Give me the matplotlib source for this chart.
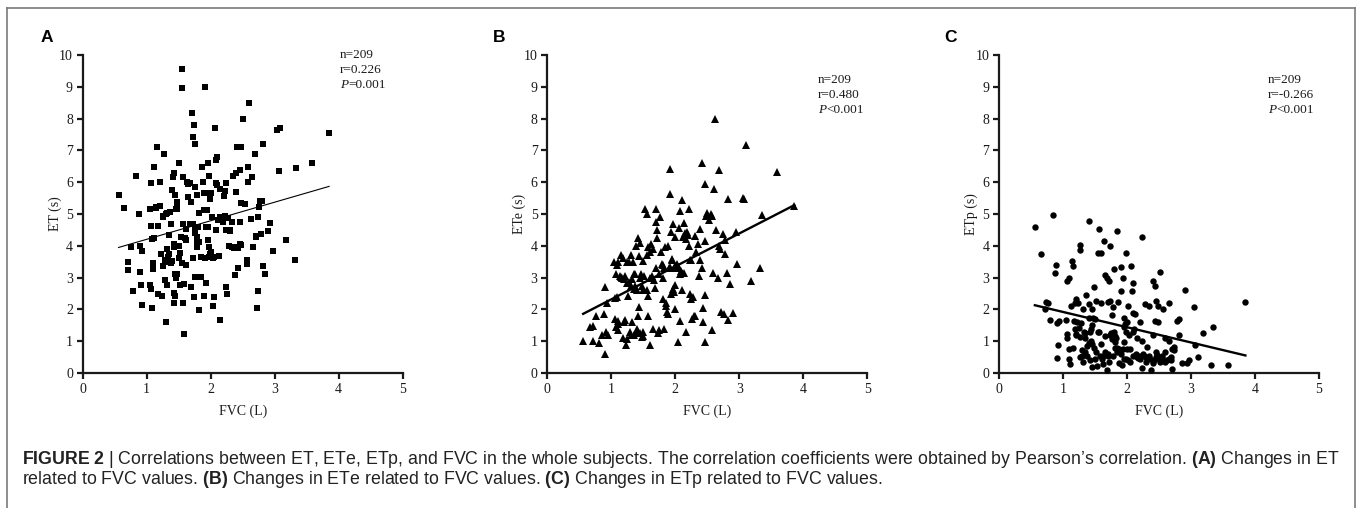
import matplotlib
matplotlib.use("Agg")
import matplotlib.pyplot as plt
from matplotlib.lines import Line2D

W, H = 1362, 508

# ---------------- data ----------------
x_ticks = [0, 1, 2, 3, 4, 5]
y_ticks = [0, 1, 2, 3, 4, 5, 6, 7, 8, 9, 10]
panel_letters = ["A", "B", "C"]
y_labels = ["ET (s)", "ETe (s)", "ETp (s)"]
x_label = "FVC (L)"
stats_text = [["n=209", "r=0.226", "P", "=0.001"],
              ["n=209", "r=0.480", "P", "<0.001"],
              ["n=209", "r=-0.266", "P", "<0.001"]]

# (FVC, ET)
points_a = [
    (0.56, 5.6), (0.65, 5.2), (0.75, 3.97), (0.71, 3.48), (0.71, 3.24), (0.79, 2.58), (0.83, 6.2),
    (0.875, 5.0), (0.90, 4.0), (0.93, 3.85), (0.90, 3.19), (0.91, 2.77), (0.92, 2.13), (1.05, 2.77),
    (1.06, 2.63), (1.09, 2.03), (1.06, 5.99), (1.06, 4.62), (1.05, 5.15), (1.09, 4.22), (1.11, 6.49),
    (1.16, 7.1), (1.10, 3.47), (1.10, 3.26), (1.15, 5.23), (1.17, 4.62), (1.17, 2.5), (1.21, 6.0),
    (1.20, 5.25), (1.22, 3.74), (1.24, 2.42), (1.25, 3.36), (1.27, 6.9), (1.26, 4.92), (1.28, 2.92),
    (1.30, 1.61), (1.31, 5.02), (1.31, 3.89), (1.32, 2.77), (1.33, 3.66), (1.34, 3.5), (1.35, 4.34),
    (1.36, 5.07), (1.38, 4.69), (1.39, 3.53), (1.40, 5.75), (1.41, 6.15), (1.43, 6.28), (1.43, 3.97),
    (1.44, 5.6), (1.43, 2.53), (1.44, 2.42), (1.43, 2.19), (1.44, 3.11), (1.46, 2.98), (1.45, 5.17),
    (1.47, 5.28), (1.48, 5.39), (1.50, 3.99), (1.50, 3.61), (1.51, 6.59), (1.52, 3.76), (1.52, 2.77),
    (1.53, 4.27), (1.55, 9.55), (1.55, 8.95), (1.57, 6.17), (1.57, 4.69), (1.57, 2.19), (1.59, 1.22),
    (1.61, 4.52), (1.61, 4.18), (1.61, 3.4), (1.63, 6.02), (1.65, 5.55), (1.67, 5.99), (1.69, 5.39),
    (1.70, 8.19), (1.69, 2.71), (1.72, 7.41), (1.72, 4.69), (1.73, 3.61), (1.74, 7.8), (1.75, 7.2),
    (1.74, 2.4), (1.76, 5.86), (1.76, 4.5), (1.75, 3.01), (1.78, 5.6), (1.79, 4.29), (1.79, 3.97),
    (1.80, 4.6), (1.81, 1.98), (1.82, 5.02), (1.82, 4.13), (1.85, 3.03), (1.86, 6.49), (1.88, 6.02),
    (1.89, 5.13), (1.89, 2.42), (1.91, 9.0), (1.91, 3.61), (1.92, 2.82), (1.93, 5.67), (1.94, 5.13),
    (1.95, 6.59), (1.95, 4.6), (1.96, 4.18), (1.97, 3.66), (1.98, 6.2), (1.98, 3.97), (1.99, 5.46),
    (1.99, 3.74), (2.00, 5.67), (2.02, 4.92), (2.03, 3.61), (2.04, 2.11), (2.05, 2.4), (2.07, 7.69),
    (2.08, 6.7), (2.08, 5.99), (2.09, 4.5), (2.10, 6.8), (2.11, 4.81), (2.13, 3.68), (2.14, 4.92),
    (2.14, 5.78), (2.15, 1.67), (2.17, 4.92), (2.19, 4.76), (2.21, 5.57), (2.21, 4.92), (2.23, 5.73),
    (2.24, 5.99), (2.24, 4.5), (2.24, 2.69), (2.25, 2.5), (2.27, 4.86), (2.28, 3.99), (2.30, 4.47),
    (2.33, 3.95), (2.34, 4.76), (2.35, 6.2), (2.36, 3.92), (2.38, 3.08), (2.40, 5.7), (2.40, 6.3),
    (2.41, 7.1), (2.42, 3.29), (2.43, 3.92), (2.45, 4.76), (2.46, 6.38), (2.47, 5.34), (2.47, 4.03),
    (2.48, 7.1), (2.51, 8.0), (2.54, 5.32), (2.56, 3.55), (2.56, 3.43), (2.59, 6.47), (2.59, 6.02),
    (2.60, 8.5), (2.63, 4.83), (2.65, 6.17), (2.66, 3.97), (2.69, 6.89), (2.71, 4.29), (2.72, 2.03),
    (2.74, 2.59), (2.74, 4.92), (2.75, 5.23), (2.77, 5.42), (2.79, 4.37), (2.81, 7.2), (2.82, 3.36),
    (2.85, 3.11), (2.89, 4.47), (2.93, 4.73), (2.97, 3.85), (3.03, 7.64), (3.09, 7.71), (3.07, 6.36),
    (3.17, 4.18), (3.32, 3.55), (3.33, 6.44), (3.58, 6.59), (3.85, 7.54),
    (1.25, 4.95), (1.28, 3.55), (1.35, 3.75), (1.38, 3.45), (1.42, 4.05), (1.47, 3.1), (1.55, 3.45),
    (1.60, 4.25), (1.68, 4.7), (1.75, 4.4), (1.78, 4.15), (1.85, 3.65), (1.92, 4.6), (2.0, 3.8),
    (2.05, 3.65), (2.12, 4.8), (2.18, 4.85), (2.22, 4.95), (2.3, 4.5), (2.38, 3.95), (1.15, 5.2),
    (1.12, 4.25), (1.3, 5.0), (1.48, 5.15), (1.65, 5.95), (1.9, 5.65), (2.1, 5.9), (2.45, 4.05),
    (2.7, 4.3), (2.8, 5.4), (1.58, 2.8),
]

# (FVC, ETe)
points_b = [
    (0.56, 1.0), (0.66, 1.44), (0.71, 1.49), (0.72, 1.0), (0.76, 1.8), (0.80, 0.94), (0.85, 1.18),
    (0.89, 1.86), (0.90, 2.72), (0.90, 0.6), (0.92, 1.29), (0.94, 2.2), (1.04, 3.48), (1.06, 1.7),
    (1.07, 1.44), (1.09, 2.38), (1.08, 3.11), (1.09, 3.4), (1.10, 3.48), (1.11, 1.36), (1.11, 1.65),
    (1.13, 3.05), (1.15, 3.7), (1.16, 3.0), (1.18, 1.1), (1.19, 3.63), (1.22, 3.05), (1.22, 1.68),
    (1.23, 0.87), (1.24, 2.82), (1.25, 1.08), (1.26, 2.43), (1.27, 2.87), (1.28, 3.48), (1.29, 1.29),
    (1.31, 3.7), (1.32, 1.6), (1.33, 2.95), (1.34, 3.48), (1.35, 2.64), (1.36, 1.18), (1.37, 3.11),
    (1.37, 2.75), (1.38, 4.0), (1.40, 1.37), (1.41, 1.8), (1.42, 4.23), (1.43, 2.07), (1.44, 3.68),
    (1.45, 1.25), (1.46, 3.11), (1.48, 2.75), (1.48, 1.13), (1.49, 3.53), (1.50, 1.3), (1.51, 3.05),
    (1.53, 5.17), (1.55, 2.6), (1.56, 4.99), (1.57, 3.97), (1.58, 2.43), (1.58, 1.8), (1.60, 0.87),
    (1.61, 3.79), (1.62, 4.05), (1.63, 3.05), (1.65, 1.39), (1.66, 2.92), (1.69, 2.66), (1.70, 5.17),
    (1.70, 4.75), (1.71, 4.5), (1.72, 4.23), (1.73, 1.25), (1.74, 1.34), (1.76, 4.92), (1.77, 3.79),
    (1.79, 3.42), (1.80, 3.0), (1.81, 2.33), (1.82, 1.39), (1.83, 3.29), (1.84, 3.97), (1.85, 2.12),
    (1.87, 1.91), (1.89, 4.0), (1.89, 1.86), (1.91, 3.32), (1.91, 5.64), (1.92, 6.4), (1.93, 2.48),
    (1.94, 4.42), (1.95, 3.56), (1.96, 2.64), (1.97, 4.7), (1.98, 3.29), (1.99, 2.01), (2.00, 4.29),
    (2.00, 2.77), (2.03, 3.42), (2.04, 0.99), (2.05, 4.57), (2.07, 1.65), (2.08, 5.09), (2.09, 3.22),
    (2.10, 2.61), (2.11, 5.43), (2.12, 4.29), (2.13, 3.16), (2.14, 4.72), (2.16, 1.3), (2.17, 4.21),
    (2.19, 4.42), (2.21, 4.0), (2.22, 5.15), (2.23, 3.54), (2.23, 2.48), (2.24, 2.33), (2.26, 1.7),
    (2.28, 2.38), (2.29, 1.8), (2.30, 4.31), (2.33, 3.79), (2.35, 4.05), (2.37, 3.04), (2.39, 4.52),
    (2.39, 3.54), (2.41, 6.59), (2.42, 3.29), (2.43, 1.6), (2.44, 2.04), (2.46, 5.95), (2.47, 2.45),
    (2.47, 0.99), (2.47, 4.15), (2.48, 4.94), (2.49, 5.04), (2.52, 4.81), (2.55, 4.99), (2.57, 1.36),
    (2.58, 4.94), (2.59, 3.16), (2.60, 5.79), (2.62, 7.99), (2.64, 4.49), (2.66, 2.99), (2.68, 3.98),
    (2.69, 6.37), (2.70, 3.91), (2.72, 1.91), (2.75, 4.36), (2.76, 1.86), (2.77, 4.19), (2.78, 3.74),
    (2.80, 3.16), (2.82, 5.48), (2.83, 1.68), (2.86, 2.8), (2.90, 1.89), (2.95, 4.42), (2.97, 3.42),
    (3.05, 5.51), (3.08, 5.46), (3.11, 7.18), (3.18, 2.9), (3.33, 3.29), (3.36, 4.96), (3.59, 6.32),
    (3.86, 5.25),
    (1.15, 3.02), (1.2, 2.95), (1.25, 3.5), (1.3, 2.75), (1.35, 3.1), (1.4, 2.6), (1.45, 3.0),
    (1.5, 2.6), (1.55, 3.7), (1.6, 3.0), (1.65, 3.9), (1.7, 3.3), (1.75, 3.1), (1.8, 3.4),
    (1.85, 2.2), (1.9, 3.3), (1.95, 3.6), (2.0, 3.35), (2.05, 3.3), (2.1, 3.15), (2.15, 4.4),
    (2.2, 4.35), (2.25, 3.55), (2.3, 1.8), (1.1, 1.55), (1.2, 1.6), (1.3, 1.2), (1.4, 1.25),
    (1.5, 1.15), (0.95, 1.2), (1.05, 2.35), (1.45, 4.1), (1.98, 2.55), (2.08, 3.1),
]

# (FVC, ETp)
points_c = [
    (0.56, 4.58), (0.66, 3.75), (0.72, 2.01), (0.73, 2.24), (0.76, 2.2), (0.80, 1.66), (0.84, 4.97),
    (0.89, 3.39), (0.88, 3.13), (0.90, 1.57), (0.92, 0.88), (0.90, 0.48), (0.93, 1.64), (1.05, 1.66),
    (1.06, 1.23), (1.07, 1.1), (1.07, 2.89), (1.10, 3.0), (1.09, 0.76), (1.10, 0.43), (1.11, 0.29),
    (1.12, 2.11), (1.14, 3.52), (1.15, 3.36), (1.17, 1.64), (1.18, 2.2), (1.19, 1.38), (1.20, 2.32),
    (1.21, 1.23), (1.22, 1.61), (1.24, 2.2), (1.26, 3.88), (1.27, 4.04), (1.26, 0.5), (1.27, 1.12),
    (1.28, 1.57), (1.29, 0.73), (1.31, 2.01), (1.32, 0.36), (1.33, 1.28), (1.34, 0.66), (1.35, 1.25),
    (1.36, 2.45), (1.37, 0.86), (1.38, 0.53), (1.40, 1.72), (1.41, 4.77), (1.41, 2.17), (1.42, 1.28),
    (1.43, 1.38), (1.44, 1.0), (1.45, 0.92), (1.45, 0.19), (1.46, 2.01), (1.47, 1.72), (1.48, 0.79),
    (1.49, 2.72), (1.51, 2.27), (1.52, 0.66), (1.53, 0.22), (1.54, 3.78), (1.56, 4.53), (1.57, 1.28),
    (1.58, 0.53), (1.59, 3.78), (1.60, 2.2), (1.61, 0.43), (1.63, 0.27), (1.64, 4.14), (1.65, 3.07),
    (1.66, 0.66), (1.68, 0.1), (1.69, 3.0), (1.70, 2.22), (1.71, 0.52), (1.72, 2.89), (1.73, 1.18),
    (1.74, 3.99), (1.74, 2.27), (1.76, 1.82), (1.76, 1.07), (1.78, 2.06), (1.79, 1.28), (1.80, 3.26),
    (1.81, 0.97), (1.81, 0.78), (1.83, 1.09), (1.84, 0.66), (1.85, 4.45), (1.86, 2.24), (1.87, 0.76),
    (1.88, 0.32), (1.90, 3.34), (1.91, 2.58), (1.92, 0.24), (1.93, 0.76), (1.94, 3.0), (1.95, 1.72),
    (1.96, 0.97), (1.97, 1.54), (1.98, 3.78), (1.98, 0.43), (1.99, 1.28), (2.01, 2.11), (2.02, 0.4),
    (2.03, 1.18), (2.05, 0.76), (2.07, 3.38), (2.08, 2.58), (2.09, 2.84), (2.10, 1.28), (2.10, 1.9),
    (2.11, 1.38), (2.13, 1.85), (2.14, 0.6), (2.15, 1.09), (2.17, 0.47), (2.19, 0.55), (2.21, 1.59),
    (2.23, 1.02), (2.23, 0.16), (2.24, 4.27), (2.26, 0.53), (2.28, 2.16), (2.30, 0.5), (2.32, 0.81),
    (2.35, 2.11), (2.36, 0.45), (2.38, 0.08), (2.40, 1.2), (2.41, 2.89), (2.42, 0.4), (2.43, 2.74),
    (2.44, 1.64), (2.45, 0.5), (2.46, 2.27), (2.47, 0.57), (2.49, 1.61), (2.49, 2.11), (2.51, 3.17),
    (2.52, 0.34), (2.54, 0.47), (2.57, 2.01), (2.59, 0.66), (2.60, 1.09), (2.62, 0.4), (2.65, 2.19),
    (2.66, 1.02), (2.68, 0.5), (2.69, 0.4), (2.71, 0.14), (2.73, 0.81), (2.74, 0.71), (2.78, 1.64),
    (2.81, 1.18), (2.82, 1.7), (2.86, 0.31), (2.90, 2.6), (2.94, 0.31), (2.97, 0.42), (3.04, 2.06),
    (3.07, 0.89), (3.11, 0.5), (3.18, 1.25), (3.32, 0.26), (3.35, 1.44), (3.58, 0.26), (3.85, 2.24),
    (1.25, 1.4), (1.3, 0.55), (1.35, 1.1), (1.4, 0.95), (1.42, 0.4), (1.45, 1.5), (1.5, 0.45),
    (1.55, 1.3), (1.6, 0.9), (1.62, 0.55), (1.65, 1.15), (1.7, 0.6), (1.72, 0.35), (1.75, 1.25),
    (1.78, 0.55), (1.82, 1.15), (1.85, 0.8), (1.9, 0.6), (1.95, 0.45), (1.95, 1.45), (2.0, 0.75),
    (2.05, 0.35), (2.1, 0.55), (2.15, 0.5), (2.2, 0.45), (2.25, 0.6), (2.3, 0.35), (2.35, 0.55),
    (2.4, 0.3), (2.45, 0.65), (2.5, 0.45), (2.55, 0.55), (2.6, 0.35), (2.65, 0.45), (2.7, 0.75),
    (1.15, 0.8), (1.2, 1.2), (1.5, 1.7), (2.0, 1.6),
]

# regression lines: (x start, x end, intercept, slope)
fit_a = (0.56, 3.85, 3.62, 0.584)
fit_b = (0.56, 3.86, 1.28, 1.036)
fit_c = (0.56, 3.85, 2.40, -0.48)

caption_line1 = [("FIGURE 2", True), (" | Correlations between ET, ETe, ETp, and FVC in the whole subjects. "
                  "The correlation coefficients were obtained by Pearson\u2019s correlation. ", False),
                 ("(A)", True), (" Changes in ET", False)]
caption_line2 = [("related to FVC values. ", False), ("(B)", True),
                 (" Changes in ETe related to FVC values. ", False), ("(C)", True),
                 (" Changes in ETp related to FVC values.", False)]

# ---------------- drawing ----------------
plt.rcParams["mathtext.fontset"] = "custom"
plt.rcParams["mathtext.rm"] = "Liberation Sans"
plt.rcParams["mathtext.it"] = "Liberation Serif:italic"
plt.rcParams["mathtext.bf"] = "Liberation Sans:bold"

fig = plt.figure(figsize=(W / 100, H / 100), dpi=100)
fig.patch.set_facecolor("white")

serif = "Liberation Serif"
ink = "#1a1a1a"

ax_left_px = [82.7, 547.3, 999.0]
ax_w_px = 320.0
ax_top_px, ax_bot_px = 55.0, 373.0
letter_x_px = [41, 493, 944]
stats_pos_px = [(340, 55), (818, 80), (1268, 80)]
markers = [("s", 4.8), ("^", 5.8), ("o", 4.6)]
fit_lw = [0.8, 1.7, 1.7]
datasets = [points_a, points_b, points_c]
fits = [fit_a, fit_b, fit_c]
tick_fs = 10
stat_fs = 9.5

for i in range(3):
    left = ax_left_px[i] / W
    bottom = 1 - ax_bot_px / H
    ax = fig.add_axes([left, bottom, ax_w_px / W, (ax_bot_px - ax_top_px) / H])
    xs = [p[0] for p in datasets[i]]
    ys = [p[1] for p in datasets[i]]
    m, ms = markers[i]
    ax.plot(xs, ys, linestyle="none", marker=m, markersize=ms, color="black",
            markeredgewidth=0, clip_on=False, zorder=3)
    x0, x1, b0, b1 = fits[i]
    ax.plot([x0, x1], [b0 + b1 * x0, b0 + b1 * x1], color="black", lw=fit_lw[i], zorder=4)
    ax.set_xlim(0, 5)
    ax.set_ylim(0, 10)
    ax.set_xticks(x_ticks)
    ax.set_yticks(y_ticks)
    for s in ["top", "right"]:
        ax.spines[s].set_visible(False)
    for s in ["left", "bottom"]:
        ax.spines[s].set_linewidth(1.6)
        ax.spines[s].set_color(ink)
    ax.tick_params(direction="out", length=4, width=1.6, color=ink, pad=3,
                   labelsize=tick_fs, labelcolor=ink)
    for lab in ax.get_xticklabels() + ax.get_yticklabels():
        lab.set_fontfamily(serif)
    ax.set_xlabel(x_label, fontsize=tick_fs, family=serif, color=ink)
    ax.set_ylabel(y_labels[i], fontsize=tick_fs, family=serif, color=ink)
    ax.xaxis.set_label_coords(0.5, -32 / 318)
    ax.yaxis.set_label_coords(-21 / 320, 0.5)
    ax.patch.set_alpha(0)

    # panel letter
    fig.text(letter_x_px[i] / W, 1 - 37 / H, panel_letters[i], fontsize=12.5, fontweight="bold",
             family="Liberation Sans", va="center", ha="left", color="black")
    # stats text
    sx, sy = stats_pos_px[i]
    n_txt, r_txt, p_sym, p_val = stats_text[i]
    fig.text(sx / W, 1 - sy / H, n_txt, fontsize=stat_fs, family=serif, va="center", ha="left", color=ink)
    fig.text(sx / W, 1 - (sy + 15) / H, r_txt, fontsize=stat_fs, family=serif, va="center", ha="left", color=ink)
    t = fig.text(sx / W, 1 - (sy + 29.5) / H, p_sym, fontsize=stat_fs, family=serif, style="italic",
                 va="center", ha="left", color=ink)
    fig.canvas.draw()
    pw = t.get_window_extent(fig.canvas.get_renderer()).width
    fig.text((sx + pw + 0.5) / W, 1 - (sy + 29.5) / H, p_val, fontsize=stat_fs, family=serif,
             va="center", ha="left", color=ink)

# border (open at the bottom)
border = "#7a7a7a"
fig.add_artist(Line2D([7 / W, 7 / W], [0, 1 - 8 / H], transform=fig.transFigure, color=border, lw=1.2))
fig.add_artist(Line2D([1355 / W, 1355 / W], [0, 1 - 8 / H], transform=fig.transFigure, color=border, lw=1.2))
fig.add_artist(Line2D([7 / W, 1355 / W], [1 - 8 / H, 1 - 8 / H], transform=fig.transFigure, color=border, lw=1.2))


def to_math(runs):
    out = ""
    for txt, bold in runs:
        if bold:
            out += r"$\mathbf{" + txt.replace(" ", r"\ ") + "}$"
        else:
            out += txt
    return out


renderer = fig.canvas.get_renderer()
cap_size = 11
probe = fig.text(22 / W, 1 - 464 / H, to_math(caption_line1), fontsize=cap_size,
                 family="Liberation Sans", va="baseline", ha="left", color="#222222")
fig.canvas.draw()
wpx = probe.get_window_extent(renderer).width
cap_size = cap_size * 1318 / wpx
probe.set_fontsize(cap_size)
fig.text(22 / W, 1 - 484 / H, to_math(caption_line2), fontsize=cap_size,
         family="Liberation Sans", va="baseline", ha="left", color="#222222")

fig.savefig("out.png", dpi=100, facecolor="white")
